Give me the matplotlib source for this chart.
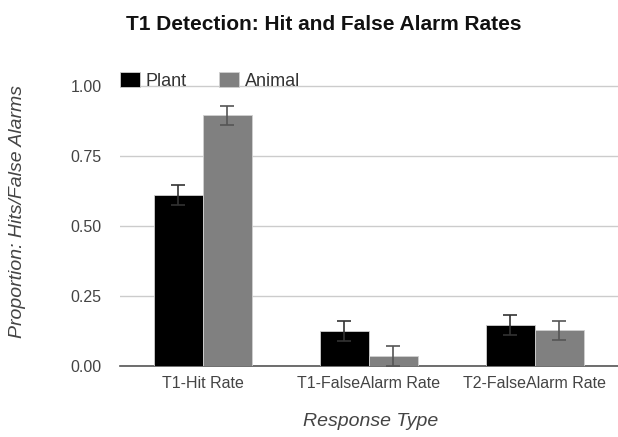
import numpy as np
import matplotlib.pyplot as plt

plt.rcParams['font.family'] = ['Liberation Sans', 'DejaVu Sans']

categories = ['T1-Hit Rate', 'T1-FalseAlarm Rate', 'T2-FalseAlarm Rate']
plant = [0.61, 0.125, 0.146]
plant_err = [0.035, 0.035, 0.035]
animal = [0.895, 0.036, 0.127]
animal_err = [0.033, 0.035, 0.033]
yticks = [0.0, 0.25, 0.5, 0.75, 1.0]


def main():
    fig = plt.figure(figsize=(6.18, 4.37), dpi=100)
    ax = fig.add_axes([0.194, 0.1625, 0.806, 0.6725])

    x = np.arange(len(categories))
    w = 0.295

    ax.bar(x - w / 2, plant, w, color='#000000', edgecolor='#d0d0d0', linewidth=0.6,
           label='Plant', zorder=3)
    ax.bar(x + w / 2, animal, w, color='#808080', edgecolor='#d0d0d0', linewidth=0.6,
           label='Animal', zorder=3)
    ax.errorbar(x - w / 2, plant, yerr=plant_err, fmt='none', ecolor='#333333',
                elinewidth=1.2, capsize=5, capthick=1.2, zorder=4)
    ax.errorbar(x + w / 2, animal, yerr=animal_err, fmt='none', ecolor='#555555',
                elinewidth=1.2, capsize=5, capthick=1.2, zorder=4)

    ax.set_xlim(-0.5, 2.5)
    ax.set_ylim(0, 1.05)
    ax.set_yticks(yticks)
    ax.set_yticklabels([f'{v:.2f}' for v in yticks])
    ax.set_xticks(x)
    ax.set_xticklabels(categories)

    ax.grid(axis='y', color='#cccccc', linewidth=1, zorder=0)
    for s in ['top', 'right', 'left']:
        ax.spines[s].set_visible(False)
    ax.spines['bottom'].set_color('#555555')
    ax.spines['bottom'].set_linewidth(1.2)
    ax.tick_params(axis='both', length=0, labelsize=11.5, colors='#444444')
    ax.tick_params(axis='x', pad=7)
    ax.tick_params(axis='y', pad=13)

    ax.set_xlabel('Response Type', fontstyle='italic', fontsize=14, color='#444444', va='top')
    ax.xaxis.set_label_coords(0.503, -0.16)
    ax.set_ylabel('Proportion: Hits/False Alarms', fontstyle='italic', fontsize=14,
                  color='#444444', va='center')
    ax.yaxis.set_label_coords(-0.205, 0.524)

    fig.text(324 / 618, 1 - 30 / 437, 'T1 Detection: Hit and False Alarm Rates', ha='center',
             va='baseline', fontsize=15, fontweight='bold', color='#111111')

    ax.legend(loc='center left', bbox_to_anchor=(0.0, 0.971), ncol=2, frameon=False,
              borderpad=0, borderaxespad=0,
              fontsize=13, handlelength=1.1, handleheight=0.94, handletextpad=0.33,
              columnspacing=1.77, labelcolor='#333333')

    fig.savefig('out.png', dpi=100)


if __name__ == '__main__':
    main()
